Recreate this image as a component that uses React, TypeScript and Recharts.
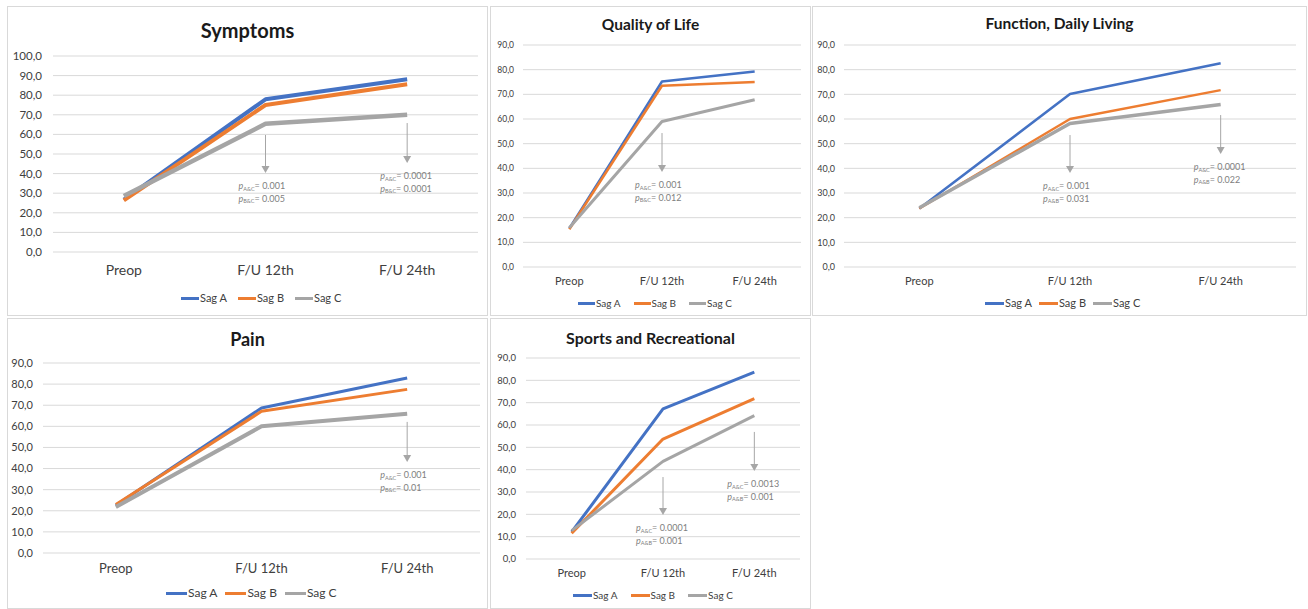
import React from 'react';
import { LineChart, Line, XAxis, YAxis, CartesianGrid, Legend, ReferenceLine } from 'recharts';

const categories = ['Preop', 'F/U 12th', 'F/U 24th'];
const seriesNames = ['Sag A', 'Sag B', 'Sag C'];
const seriesColors = ['#4472C4', '#ED7D31', '#A5A5A5'];

const symptomsSagA = [26.7, 77.9, 88.1];
const symptomsSagB = [26.3, 75.0, 85.6];
const symptomsSagC = [28.6, 65.4, 70.0];

const qolSagA = [15.6, 75.2, 79.3];
const qolSagB = [15.3, 73.5, 75.0];
const qolSagC = [15.9, 59.0, 67.8];

const functionSagA = [23.7, 70.1, 82.6];
const functionSagB = [23.7, 60.0, 71.7];
const functionSagC = [24.0, 58.2, 65.9];

const painSagA = [22.6, 68.7, 82.9];
const painSagB = [23.0, 67.1, 77.5];
const painSagC = [21.8, 60.0, 66.0];

const sportsSagA = [12.1, 67.2, 83.7];
const sportsSagB = [11.5, 53.7, 71.8];
const sportsSagC = [12.7, 43.7, 64.2];

const yTicks100 = [0, 10, 20, 30, 40, 50, 60, 70, 80, 90, 100];
const yTicks90 = [0, 10, 20, 30, 40, 50, 60, 70, 80, 90];

const symptomsNotes = [
  { at: 'F/U 12th', from: 59.7, to: 40.3, lines: [['A&C', '0.001'], ['B&C', '0.005']] },
  { at: 'F/U 24th', from: 65.8, to: 45.4, lines: [['A&C', '0.0001'], ['B&C', '0.0001']] },
];
const qolNotes = [
  { at: 'F/U 12th', from: 54.3, to: 38.5, lines: [['A&C', '0.001'], ['B&C', '0.012']] },
];
const functionNotes = [
  { at: 'F/U 12th', from: 53.5, to: 38.1, lines: [['A&C', '0.001'], ['A&B', '0.031']] },
  { at: 'F/U 24th', from: 61.6, to: 45.8, lines: [['A&C', '0.0001'], ['A&B', '0.022']] },
];
const painNotes = [
  { at: 'F/U 24th', from: 62.1, to: 43.1, lines: [['A&C', '0.001'], ['B&C', '0.01']] },
];
const sportsNotes = [
  { at: 'F/U 12th', from: 36.7, to: 19.7, lines: [['A&C', '0.0001'], ['A&B', '0.001']] },
  { at: 'F/U 24th', from: 56.9, to: 39.4, lines: [['A&C', '0.0013'], ['A&B', '0.001']] },
];

const FONT = 'Lato, "Open Sans", sans-serif';
const TEXT = '#404040';
const fmt = (v: number) => v.toFixed(1).replace('.', ',');

const arrowShape = (lines: string[][]) => (props: any) => {
  const { x1, y1, x2, y2 } = props;
  const head = 7;
  return (
    <g>
      <line x1={x1} y1={y1} x2={x2} y2={y2 - head + 1} stroke="#A6A6A6" strokeWidth={1} />
      <polygon points={`${x2 - 4},${y2 - head} ${x2 + 4},${y2 - head} ${x2},${y2}`} fill="#A6A6A6" />
      {lines.map((l, i) => (
        <text key={i} x={x2 - 27} y={y2 + 16 + i * 12.7} fontSize={9} fill="#808080" fontFamily={FONT}>
          <tspan fontStyle="italic">p</tspan>
          <tspan fontSize={5.5} dy={1.5}>{l[0]}</tspan>
          <tspan dy={-1.5}>= {l[1]}</tspan>
        </text>
      ))}
    </g>
  );
};

function Panel({ cfg }: { cfg: any }) {
  const data = categories.map((c, i) => ({ cat: c, a: cfg.a[i], b: cfg.b[i], c: cfg.c[i] }));
  const plotW = cfg.width - cfg.yw - cfg.mr;
  const pad = plotW / 6;
  const legendContent = (props: any) => (
    <div style={{ display: 'flex', alignItems: 'center', fontFamily: FONT, fontSize: cfg.legendFs, color: TEXT, whiteSpace: 'nowrap', lineHeight: '14px' }}>
      {(props.payload || []).map((p: any, i: number) => (
        <span key={i} style={{ display: 'inline-flex', alignItems: 'center', marginRight: cfg.legendGap }}>
          <span style={{ display: 'inline-block', width: cfg.legendLine, height: 3, background: p.color, marginRight: 1 }} />
          {p.value}
        </span>
      ))}
    </div>
  );
  return (
    <div style={{ position: 'absolute', left: cfg.left, top: cfg.top, width: cfg.width, height: cfg.height, background: '#fff' }}>
      <div style={{ position: 'absolute', inset: 0, border: '1px solid #D9D9D9' }} />
      <div style={{ position: 'absolute', left: 0, width: '100%', top: cfg.titleY - cfg.titleFs * 0.62, textAlign: 'center', fontFamily: FONT, fontWeight: 700, fontSize: cfg.titleFs, color: '#1a1a1a', lineHeight: `${cfg.titleFs * 1.24}px` }}>
        {cfg.title}
      </div>
      <div style={{ position: 'absolute', left: 0, top: 0 }}>
        <LineChart width={cfg.width} height={cfg.height} data={data} margin={{ top: cfg.mt, right: cfg.mr, bottom: cfg.mb, left: 0 }}>
          <CartesianGrid vertical={false} stroke="#D9D9D9" strokeWidth={1} />
          <XAxis dataKey="cat" padding={{ left: pad, right: pad }} axisLine={false} tickLine={false} tickSize={0} tickMargin={cfg.xtm} height={cfg.xh} interval={0}
            tick={{ fontSize: cfg.xFs, fill: TEXT, fontFamily: FONT }} />
          <YAxis domain={[0, cfg.max]} ticks={cfg.ticks} tickFormatter={fmt} axisLine={false} tickLine={false} tickSize={0} tickMargin={cfg.ytm} width={cfg.yw} interval={0}
            tick={{ fontSize: cfg.yFs, fill: TEXT, fontFamily: FONT }} />
          <Line dataKey="a" name={seriesNames[0]} stroke={seriesColors[0]} strokeWidth={cfg.sw} dot={false} isAnimationActive={false} strokeLinejoin="round" legendType="plainline" />
          <Line dataKey="b" name={seriesNames[1]} stroke={seriesColors[1]} strokeWidth={cfg.sw} dot={false} isAnimationActive={false} strokeLinejoin="round" legendType="plainline" />
          <Line dataKey="c" name={seriesNames[2]} stroke={seriesColors[2]} strokeWidth={cfg.swc} dot={false} isAnimationActive={false} strokeLinejoin="round" legendType="plainline" />
          {cfg.notes.map((n: any, i: number) => (
            <ReferenceLine key={i} segment={[{ x: n.at, y: n.from }, { x: n.at, y: n.to }]} shape={arrowShape(n.lines)} ifOverflow="visible" />
          ))}
          <Legend layout="horizontal" verticalAlign="middle" align="center" content={legendContent}
            wrapperStyle={{ top: cfg.legendY - 7, left: cfg.legendX, width: 'auto', height: 14 }} />
        </LineChart>
      </div>
    </div>
  );
}

const panels = [
  { title: 'Symptoms', a: symptomsSagA, b: symptomsSagB, c: symptomsSagC, notes: symptomsNotes, max: 100, ticks: yTicks100,
    left: 7, top: 6, width: 481, height: 310, yw: 46, mr: 10, mt: 50, mb: 34, xh: 30, xtm: 13, ytm: 11,
    titleY: 24, titleFs: 20, xFs: 14, yFs: 11.5, legendFs: 11, legendLine: 18, legendGap: 11, legendX: 174, legendY: 292, sw: 4, swc: 4.5 },
  { title: 'Quality of Life', a: qolSagA, b: qolSagB, c: qolSagC, notes: qolNotes, max: 90, ticks: yTicks90,
    left: 490, top: 6, width: 321, height: 310, yw: 33, mr: 10, mt: 39, mb: 24, xh: 25, xtm: 10.5, ytm: 9,
    titleY: 19, titleFs: 15.5, xFs: 11, yFs: 8.5, legendFs: 10, legendLine: 17, legendGap: 13, legendX: 88, legendY: 297, sw: 2.5, swc: 3 },
  { title: 'Function, Daily Living', a: functionSagA, b: functionSagB, c: functionSagC, notes: functionNotes, max: 90, ticks: yTicks90,
    left: 812, top: 6, width: 495, height: 310, yw: 32, mr: 11, mt: 39, mb: 24, xh: 25, xtm: 10.5, ytm: 9,
    titleY: 18, titleFs: 15.5, xFs: 11, yFs: 9, legendFs: 11, legendLine: 19, legendGap: 7, legendX: 173, legendY: 297, sw: 2.5, swc: 3.5 },
  { title: 'Pain', a: painSagA, b: painSagB, c: painSagC, notes: painNotes, max: 90, ticks: yTicks90,
    left: 7, top: 318, width: 481, height: 291, yw: 36, mr: 8, mt: 45, mb: 26, xh: 30, xtm: 11, ytm: 10,
    titleY: 21, titleFs: 18, xFs: 13, yFs: 11, legendFs: 12, legendLine: 21, legendGap: 8, legendX: 159, legendY: 275, sw: 3, swc: 4 },
  { title: 'Sports and Recreational', a: sportsSagA, b: sportsSagB, c: sportsSagC, notes: sportsNotes, max: 90, ticks: yTicks90,
    left: 490, top: 318, width: 321, height: 291, yw: 36, mr: 11, mt: 40, mb: 25, xh: 25, xtm: 10.5, ytm: 10,
    titleY: 20, titleFs: 16, xFs: 11, yFs: 9.5, legendFs: 10, legendLine: 19, legendGap: 13, legendX: 83, legendY: 277, sw: 3, swc: 3 },
];

export default function App() {
  return (
    <div style={{ position: 'absolute', left: 0, top: 0, width: 1308, height: 609, background: '#fff', overflow: 'hidden' }}>
      {panels.map((p, i) => <Panel key={i} cfg={p} />)}
    </div>
  );
}
